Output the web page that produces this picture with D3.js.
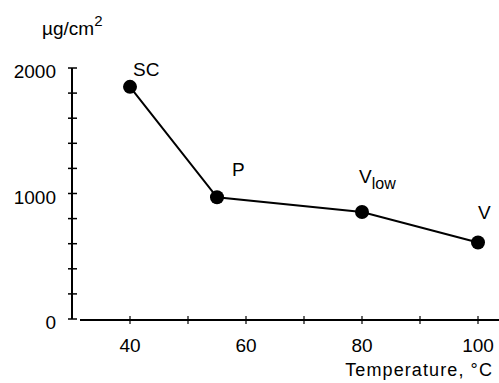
<!DOCTYPE html>
<html>
<head>
<meta charset="utf-8">
<script src="https://d3js.org/d3.v7.min.js"></script>
<style>
  body { margin: 0; background: #fff; }
  text { font-family: "Liberation Sans", Arial, sans-serif; fill: #000; }
</style>
</head>
<body>
<script>
// data
var temps = [40, 55, 80, 100];
var amounts = [1850, 970, 853, 610];
var labels = ["SC", "P", "V", "V"];
var subs = ["", "", "low", ""];
var xTicks = [40, 50, 60, 70, 80, 90, 100];
var xLabels = [40, 60, 80, 100];
var yTicks = [0, 200, 400, 600, 800, 1000, 1200, 1400, 1600, 1800, 2000];
var yLabels = [0, 1000, 2000];

var W = 499, H = 383;
var svg = d3.select("body").append("svg").attr("width", W).attr("height", H);

var x = d3.scaleLinear().domain([40, 100]).range([130, 478]);
var y = d3.scaleLinear().domain([0, 2000]).range([319, 68]);

// y axis
svg.append("line").attr("x1", 72).attr("x2", 72).attr("y1", y(0)).attr("y2", y(2000))
  .attr("stroke", "#000").attr("stroke-width", 2);
svg.selectAll(".yt").data(yTicks).enter().append("line")
  .attr("x1", 68).attr("x2", 77)
  .attr("y1", function(d){ return y(d); }).attr("y2", function(d){ return y(d); })
  .attr("stroke", "#000").attr("stroke-width", 1.5);
svg.selectAll(".yl").data(yLabels).enter().append("text")
  .attr("x", 56).attr("y", function(d){ return y(d) + 10; })
  .attr("text-anchor", "end").style("font-size", "19px")
  .text(function(d){ return d; });

// x axis
svg.append("line").attr("x1", 80).attr("x2", 499).attr("y1", 320).attr("y2", 320)
  .attr("stroke", "#000").attr("stroke-width", 2);
svg.selectAll(".xt").data(xTicks).enter().append("line")
  .attr("x1", function(d){ return x(d); }).attr("x2", function(d){ return x(d); })
  .attr("y1", 316).attr("y2", 324)
  .attr("stroke", "#000").attr("stroke-width", 1.2);
svg.selectAll(".xl").data(xLabels).enter().append("text")
  .attr("x", function(d){ return x(d); }).attr("y", 352)
  .attr("text-anchor", "middle").style("font-size", "19px")
  .text(function(d){ return d; });

svg.append("text").attr("x", 493).attr("y", 376).attr("text-anchor", "end")
  .style("font-size", "18px").style("letter-spacing", "1.1px").text("Temperature, °C");

var yt = svg.append("text").attr("x", 42).attr("y", 35).style("font-size", "19px");
yt.append("tspan").text("µg/cm");
yt.append("tspan").attr("dy", -9).style("font-size", "15px").text("2");

// line and points
var line = d3.line().x(function(d, i){ return x(temps[i]); }).y(function(d){ return y(d); });
svg.append("path").datum(amounts).attr("d", line)
  .attr("fill", "none").attr("stroke", "#000").attr("stroke-width", 2);
svg.selectAll(".pt").data(amounts).enter().append("circle")
  .attr("cx", function(d, i){ return x(temps[i]); })
  .attr("cy", function(d){ return y(d); })
  .attr("r", 7).attr("fill", "#000");

// point labels
var offs = [[3, -11], [15, -21], [-3, -29], [0, -23]];
var lab = svg.selectAll(".pl").data(amounts).enter().append("text")
  .attr("x", function(d, i){ return x(temps[i]) + offs[i][0]; })
  .attr("y", function(d, i){ return y(d) + offs[i][1]; })
  .style("font-size", "19px");
lab.append("tspan").text(function(d, i){ return labels[i]; });
lab.append("tspan").attr("dy", 6).style("font-size", "16px").text(function(d, i){ return subs[i]; });
</script>
</body>
</html>
